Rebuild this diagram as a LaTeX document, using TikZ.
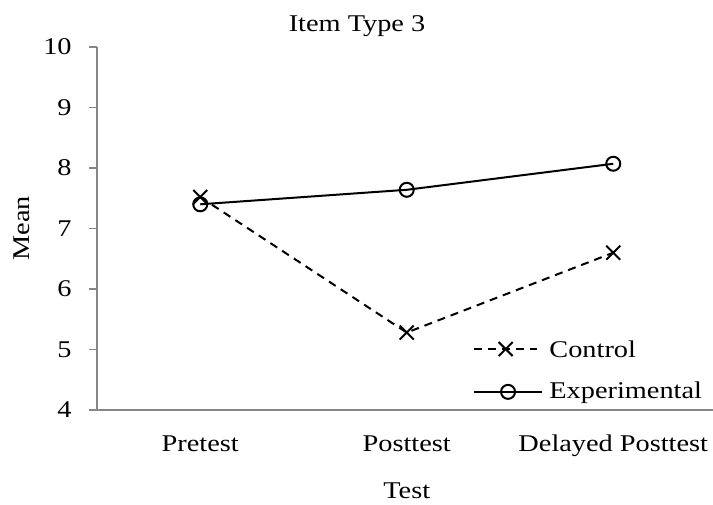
\documentclass[tikz,border=0pt]{standalone}
\usepackage{fontspec}
\setmainfont[FakeStretch=1.18]{Liberation Serif}
\usetikzlibrary{positioning,shapes.misc,calc}
\definecolor{axisgray}{RGB}{134,134,134}
\begin{document}
\begin{tikzpicture}[x=103.25pt,y=30.25pt,font=\fontsize{12}{14}\selectfont,
    axisline/.style={axisgray,line width=0.8pt},
    ctrlline/.style={black,line width=1pt,dash pattern=on 4pt off 3pt},
    expline/.style={black,line width=1pt},
    xmark/.style={draw,cross out,line width=1pt,minimum size=6pt,inner sep=0pt},
    omark/.style={draw,circle,line width=1pt,minimum size=7pt,inner sep=0pt}]
        \useasboundingbox (-0.4697,2.446) rectangle (2.983,10.777);
        %画x和y轴坐标
        \draw[axisline] (0,4) -- (2.983,4);
        \draw[axisline] (0,4) -- (0,10);
        %画刻度和刻度值
        \foreach \y in {4,5,...,10}
        {
            \draw[axisline] (0,\y) -- ++(-4pt,0);
            \node[anchor=east,inner sep=0pt] (ytick\y) at ([xshift=-12.5pt]0,\y) {\y};
        };
        %标类别
        \foreach \c/\name [count=\i] in {0.5/Pretest,1.5/Posttest,2.5/Delayed Posttest}
            \node[anchor=base,inner sep=0pt] (cat\i) at (\c,3.311) {\name};
        %标题和轴名
        \node[anchor=base,inner sep=0pt] (title) at (1.259,10.253) {Item Type 3};
        \node[rotate=90,inner sep=0pt] (ylabel) at (-0.363,7) {Mean};
        \node[anchor=base,inner sep=0pt] (xlabel) at (1.5,2.540) {Test};
        %数据点
        \coordinate (ctrl1) at (0.5,7.52);
        \coordinate (ctrl2) at (1.5,5.28);
        \coordinate (ctrl3) at (2.5,6.60);
        \coordinate (exp1) at (0.5,7.40);
        \coordinate (exp2) at (1.5,7.64);
        \coordinate (exp3) at (2.5,8.07);
        %画折线
        \draw[ctrlline] (ctrl1) -- (ctrl2) -- (ctrl3);
        \draw[expline] (exp1) -- (exp2) -- (exp3);
        \foreach \i in {1,2,3}
        {
            \node[xmark] (ctrlmark\i) at (ctrl\i) {};
            \node[omark] (expmark\i) at (exp\i) {};
        };
        %图例
        \coordinate (ctrlL) at (1.826,5.008);
        \coordinate (ctrlR) at (2.132,5.008);
        \coordinate (expL) at (1.826,4.30);
        \coordinate (expR) at (2.155,4.30);
        \draw[ctrlline] (ctrlL) -- (ctrlR);
        \draw[expline] (expL) -- (expR);
        \node[xmark] (ctrlkey) at ($(ctrlL)!0.5!(ctrlR)$) {};
        \node[omark] (expkey) at ($(expL)!0.5!(expR)$) {};
        \node[anchor=base west,inner sep=0pt] (ctrltext) at (2.189,4.860) {Control};
        \node[anchor=base west,inner sep=0pt] (exptext) at (2.189,4.198) {Experimental};
\end{tikzpicture}
\end{document}
